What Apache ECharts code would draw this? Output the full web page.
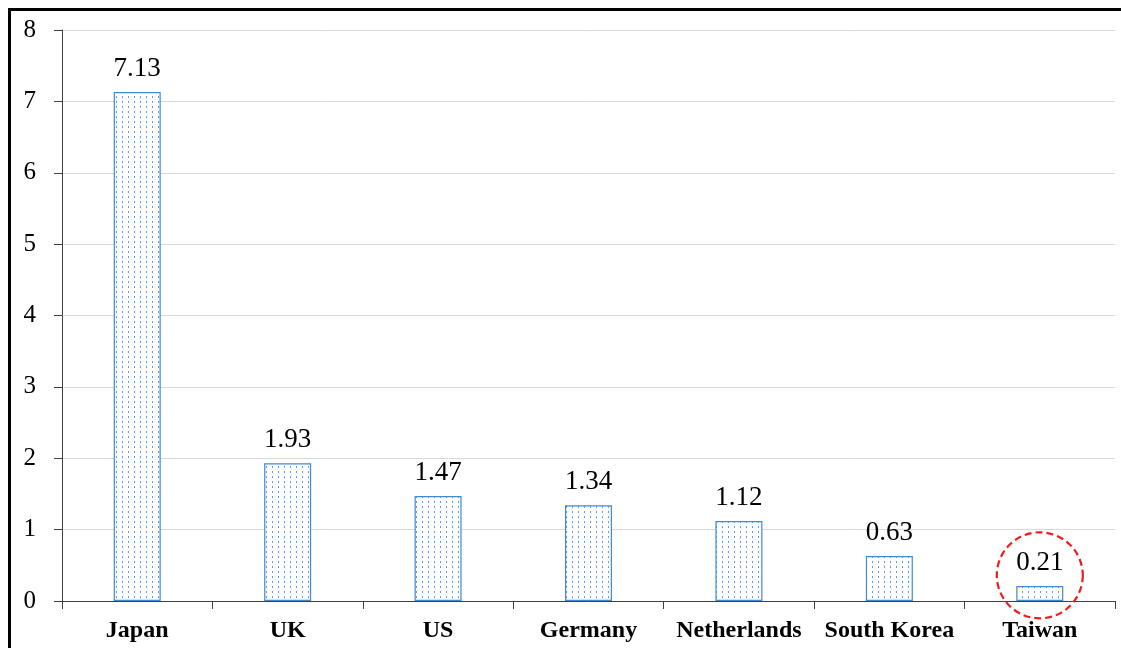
<!DOCTYPE html>
<html>
<head>
<meta charset="utf-8" />
<title>Chart</title>
<script src="https://cdn.jsdelivr.net/npm/echarts@6/dist/echarts.min.js"></script>
<style>
  html, body { margin: 0; padding: 0; background: #fff; }
  #wrap { position: relative; width: 1121px; height: 648px; }
  #chart { width: 1121px; height: 648px; }
  #frame { position: absolute; left: 8px; top: 8px; right: 0; bottom: 0;
           border-left: 3px solid #000; border-top: 3px solid #000; pointer-events: none; }
</style>
</head>
<body>
<div id="wrap">
  <div id="chart"></div>
  <div id="frame"></div>
</div>
<script>
var countries = ['Japan', 'UK', 'US', 'Germany', 'Netherlands', 'South Korea', 'Taiwan'];
var values = [7.13, 1.93, 1.47, 1.34, 1.12, 0.63, 0.21];
var highlight = ['Taiwan', 0.36];

// dotted fill like the original
var pat = document.createElement('canvas');
pat.width = 6; pat.height = 5;
var ctx = pat.getContext('2d');
ctx.fillStyle = '#ffffff';
ctx.fillRect(0, 0, 6, 5);
ctx.fillStyle = '#5f9fe0';
ctx.fillRect(2, 1, 1, 2);

var chart = echarts.init(document.getElementById('chart'), null, {renderer: 'canvas'});
chart.setOption({
  animation: false,
  grid: {left: 62, right: 6, top: 30, bottom: 47},
  xAxis: {
    type: 'category',
    data: countries,
    axisLine: {lineStyle: {color: '#404040', width: 1}},
    axisTick: {show: true, interval: 0, length: 8, lineStyle: {color: '#404040'}},
    axisLabel: {interval: 0, hideOverlap: false, color: '#000', fontFamily: 'Liberation Serif',
                fontWeight: 'bold', fontSize: 24, margin: 18}
  },
  yAxis: {
    type: 'value',
    min: 0, max: 8, interval: 1,
    axisLine: {show: true, lineStyle: {color: '#404040', width: 1}},
    axisTick: {show: true, length: 8, lineStyle: {color: '#404040'}},
    splitLine: {lineStyle: {color: '#d9d9d9', width: 1}},
    axisLabel: {color: '#000', fontFamily: 'Liberation Serif', fontSize: 25, margin: 26}
  },
  series: [{
    type: 'bar',
    data: values,
    barWidth: 47,
    itemStyle: {color: {image: pat, repeat: 'repeat'}, borderColor: '#3f8ad6', borderWidth: 1.2},
    label: {show: true, position: 'top', distance: 10, color: '#000',
            fontFamily: 'Liberation Serif', fontSize: 27,
            formatter: function (p) { return p.value.toFixed(2); }},
    markPoint: {
      silent: true,
      symbol: 'circle',
      symbolSize: 86,
      label: {show: false},
      itemStyle: {color: 'rgba(0,0,0,0)', borderColor: '#f01c1c', borderWidth: 2.2, borderType: [7, 4]},
      data: [{coord: highlight}]
    }
  }]
});
</script>
</body>
</html>
